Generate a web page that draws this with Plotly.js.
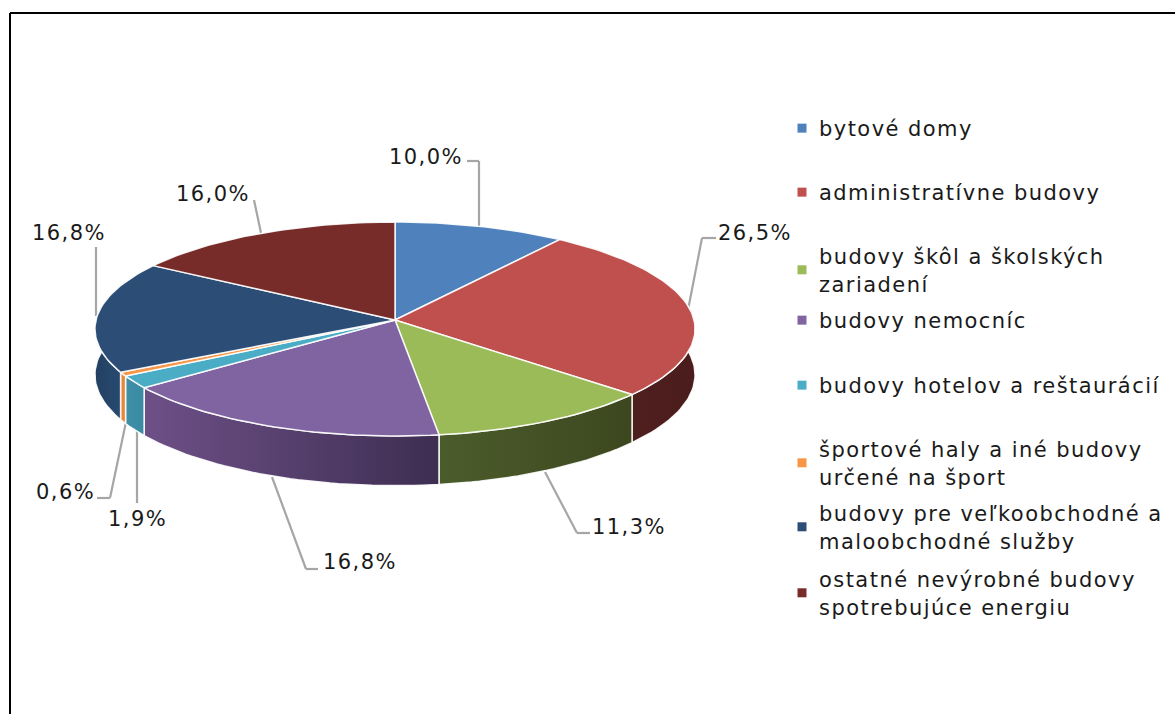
<!DOCTYPE html>
<html>
<head>
<meta charset="utf-8">
<script src="https://cdn.plot.ly/plotly-3.0.1.min.js"></script>
<style>
html,body{margin:0;padding:0;background:#fff;overflow:hidden}
text{letter-spacing:1.45px}
</style>
</head>
<body>
<div id="chart" style="width:1175px;height:714px"></div>
<script>
const categories = ["bytové domy","administratívne budovy","budovy škôl a školských<br>zariadení","budovy nemocníc","budovy hotelov a reštaurácií","športové haly a iné budovy<br>určené na šport","budovy pre veľkoobchodné a<br>maloobchodné služby","ostatné nevýrobné budovy<br>spotrebujúce energiu"];
const values = [10.0,26.5,11.3,16.8,1.9,0.6,16.8,16.0];
const topColors = ["#4F81BD","#C0504D","#9BBB59","#8064A2","#4BACC6","#F79646","#2C4D75","#772C2A"];
const sideLeft = ["#3b6090","#4f1f1e","#4b5c2b","#6d5087","#3d90a8","#e8863a","#234062","#5a2120"];
const sideRight = ["#3b6090","#4a1d1c","#3d471f","#3e2e52","#3a8aa2","#e8863a","#284a70","#5a2120"];
const labelPos = [[426,157],[755,233],[629,527],[360,562],[137,519],[65,492],[69,233],[213,194]];
const leaders = [
  [[467,161],[479,161],[479,228]],
  [[716,238],[702,238],[688,310]],
  [[590,533],[577,533],[545,472]],
  [[318,569],[306,569],[272,477]],
  [[137,503],[137,430]],
  [[97,498],[110,498],[126,422]],
  [[96,247],[96,316]],
  [[254,200],[261,233]]
];
const legendPos = [128,192,256,320,385,449,513,579];

// projection of the pie disc (perspective view)
const CX=395, CY=320, A=299, B=106.2, K=0.084, DEPTH=45.5;
function proj(deg, drop){
  const t=deg*Math.PI/180, u=Math.sin(t), v=-Math.cos(t), s=1/(1-K*v);
  return [CX+A*u*s, CY+B*v*s+(drop?DEPTH*s:0)];
}
function arc(a,b,drop){
  const n=Math.max(2,Math.ceil(Math.abs(b-a)/1.5)), out=[];
  for(let i=0;i<=n;i++) out.push(proj(a+(b-a)*i/n,drop));
  return out;
}
const total=values.reduce((p,c)=>p+c,0);
const spans=[]; let acc=0;
values.forEach(v=>{const s=acc/total*360; acc+=v; spans.push([s,acc/total*360]);});

const traces=[];
// side walls
spans.forEach(([a,b],i)=>{
  const lo=Math.max(a,82), hi=Math.min(b,278);
  if(hi<=lo) return;
  const pts=arc(lo,hi,false).concat(arc(hi,lo,true));
  pts.push(pts[0]);
  traces.push({type:'scatter',mode:'lines',x:pts.map(p=>p[0]),y:pts.map(p=>p[1]),fill:'toself',
    fillgradient:{type:'horizontal',colorscale:[[0,sideLeft[i]],[1,sideRight[i]]]},
    line:{color:'rgba(255,255,255,0.9)',width:1.5},showlegend:false,hoverinfo:'skip'});
});
// top faces
spans.forEach(([a,b],i)=>{
  const pts=[[CX,CY]].concat(arc(a,b,false)); pts.push([CX,CY]);
  traces.push({type:'scatter',mode:'lines',x:pts.map(p=>p[0]),y:pts.map(p=>p[1]),fill:'toself',
    fillcolor:topColors[i],line:{color:'rgba(255,255,255,0.9)',width:1.5},showlegend:false,
    name:categories[i],hoverinfo:'name'});
});
// legend entries
const H=714, W=1175;
const layoutLegends={};
const legendFont={family:'"DejaVu Sans",sans-serif',size:21,color:'#1a1a1a'};
categories.forEach((c,i)=>{
  const key=i===0?'legend':'legend'+(i+1);
  traces.push({type:'scatter',mode:'markers',x:[null],y:[null],name:c,
    marker:{symbol:'square',size:9,color:topColors[i]},legend:key,showlegend:true});
  layoutLegends[key]={x:779/W,y:1-(legendPos[i]-20)/H,xanchor:'left',yanchor:'top',
    bgcolor:'rgba(0,0,0,0)',font:legendFont,itemwidth:30,borderwidth:0,
    itemclick:false,itemdoubleclick:false};
});

const annotations=values.map((v,i)=>({
  x:labelPos[i][0],y:labelPos[i][1],xref:'x',yref:'y',showarrow:false,
  text:v.toFixed(1).replace('.',',')+'%',
  font:{family:'"DejaVu Sans",sans-serif',size:21,color:'#1a1a1a'}
}));
const shapes=[];
leaders.forEach(l=>{
  for(let i=0;i<l.length-1;i++) shapes.push({type:'line',xref:'x',yref:'y',x0:l[i][0],y0:l[i][1],x1:l[i+1][0],y1:l[i+1][1],line:{color:'#A6A6A6',width:2.2},layer:'below'});
});
// outer frame
shapes.push({type:'line',xref:'x',yref:'y',x0:10,y0:13,x1:1175,y1:13,line:{color:'#000',width:2}});
shapes.push({type:'line',xref:'x',yref:'y',x0:10,y0:13,x1:10,y1:714,line:{color:'#000',width:2}});

const layout=Object.assign({
  width:W,height:H,margin:{l:0,r:0,t:0,b:0},paper_bgcolor:'#fff',plot_bgcolor:'#fff',
  xaxis:{range:[0,W],visible:false,fixedrange:true},
  yaxis:{range:[H,0],visible:false,fixedrange:true},
  annotations,shapes,hovermode:'closest'
},layoutLegends);
Plotly.newPlot('chart',traces,layout,{displayModeBar:false}).then(gd=>{
  // legend swatches sit next to the first text line, as in the reference
  gd.querySelectorAll('.infolayer .traces').forEach(tr=>{
    const lines=tr.querySelectorAll('.legendtext tspan.line').length;
    const lp=tr.querySelector('.legendpoints');
    if(lp) lp.style.transform='translate(3px,'+(lines>1?-13.5:0)+'px)';
  });
});
</script>
</body>
</html>
